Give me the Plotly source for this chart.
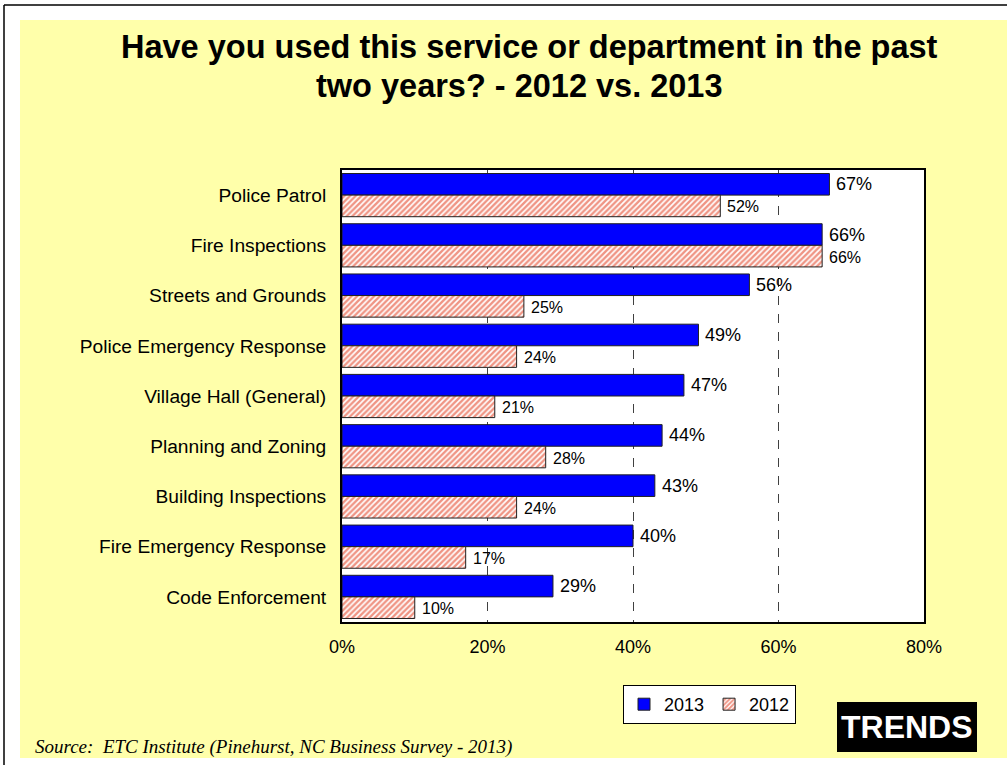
import plotly.graph_objects as go

# Survey results: share of respondents who used each service
categories = [
    "Police Patrol",
    "Fire Inspections",
    "Streets and Grounds",
    "Police Emergency Response",
    "Village Hall (General)",
    "Planning and Zoning",
    "Building Inspections",
    "Fire Emergency Response",
    "Code Enforcement",
]
pct_2013 = [67, 66, 56, 49, 47, 44, 43, 40, 29]
pct_2012 = [52, 66, 25, 24, 21, 28, 24, 17, 10]
x_ticks = [0, 20, 40, 60, 80]
x_tick_text = ["0%", "20%", "40%", "60%", "80%"]

title_lines = [
    "Have you used this service or department in the past",
    "two years? - 2012 vs. 2013",
]
source_text = "Source:  ETC Institute (Pinehurst, NC Business Survey - 2013)"

# Canvas and plot-area geometry (pixels)
W, H = 1007, 765
L, R, T, B = 342, 924, 170, 622
PW, PH = R - L, B - T


def px(x):
    return (x - L) / PW


def py(y):
    return (B - y) / PH


BLUE = "#0000FF"
HATCH = "#E02A0A"
YELLOW = "#FFFFAA"
FONT = "Arial, Liberation Sans, sans-serif"

fig = go.Figure()

fig.add_trace(go.Bar(
    y=categories, x=pct_2013, name="2013", orientation="h",
    marker=dict(color=BLUE, line=dict(color="#202020", width=1)),
    hoverinfo="skip",
))
fig.add_trace(go.Bar(
    y=categories, x=pct_2012, name="2012", orientation="h",
    marker=dict(
        color="white",
        line=dict(color="#202020", width=1),
        pattern=dict(shape="/", fgcolor=HATCH, bgcolor="white",
                     size=4, solidity=0.6, fillmode="overlay"),
    ),
    hoverinfo="skip",
))

shapes = [
    # page frame lines
    dict(type="line", xref="paper", yref="paper",
         x0=px(4), x1=px(W + 5), y0=py(5), y1=py(5),
         line=dict(color="black", width=1.5), layer="below"),
    dict(type="line", xref="paper", yref="paper",
         x0=px(4), x1=px(4), y0=py(5), y1=py(H + 5),
         line=dict(color="black", width=1.5), layer="below"),
    # yellow panel
    dict(type="rect", xref="paper", yref="paper",
         x0=px(20), x1=px(W + 5), y0=py(20), y1=py(758),
         fillcolor=YELLOW, line=dict(width=0), layer="below"),
    # white plot area
    dict(type="rect", xref="x domain", yref="y domain",
         x0=0, x1=1, y0=0, y1=1,
         fillcolor="white", line=dict(width=0), layer="below"),
    # TRENDS badge
    dict(type="rect", xref="paper", yref="paper",
         x0=px(837), x1=px(977), y0=py(702), y1=py(752),
         fillcolor="black", line=dict(width=0)),
]

annotations = [
    dict(text=title_lines[0], xref="paper", yref="paper",
         x=px(529), y=py(47), xanchor="center", yanchor="middle",
         showarrow=False, font=dict(family=FONT, size=32.5, color="black", weight="bold")),
    dict(text=title_lines[1], xref="paper", yref="paper",
         x=px(519), y=py(86), xanchor="center", yanchor="middle",
         showarrow=False, font=dict(family=FONT, size=32.5, color="black", weight="bold")),
    dict(text="TRENDS", xref="paper", yref="paper",
         x=px(907), y=py(727), xanchor="center", yanchor="middle",
         showarrow=False, font=dict(family=FONT, size=32, color="white", weight="bold")),
    dict(text=source_text, xref="paper", yref="paper",
         x=px(33), y=py(747), xanchor="left", yanchor="middle",
         showarrow=False,
         font=dict(family="Times New Roman, Liberation Serif, serif", size=19,
                   color="black", style="italic")),
]

# value labels beside each bar
slot = PH / len(categories)
half_bar = slot * (1 - 0.14) / 4
for cat, v in zip(categories, pct_2013):
    annotations.append(dict(
        text=f"{v}%", x=v, y=cat, xref="x", yref="y",
        xanchor="left", yanchor="middle", xshift=5, yshift=half_bar,
        showarrow=False, font=dict(family=FONT, size=18, color="black")))
for cat, v in zip(categories, pct_2012):
    annotations.append(dict(
        text=f"{v}%", x=v, y=cat, xref="x", yref="y",
        xanchor="left", yanchor="middle", xshift=5, yshift=-half_bar - 1,
        showarrow=False, font=dict(family=FONT, size=16, color="black")))

fig.update_layout(
    width=W, height=H,
    margin=dict(l=L, r=W - R, t=T, b=H - B, pad=0),
    paper_bgcolor="white",
    plot_bgcolor="white",
    barmode="group",
    bargap=0.14,
    bargroupgap=0,
    font=dict(family=FONT, color="black"),
    shapes=shapes,
    annotations=annotations,
    showlegend=True,
    legend=dict(
        orientation="h",
        x=px(623), y=py(685), xanchor="left", yanchor="top",
        bgcolor="white", bordercolor="black", borderwidth=1,
        font=dict(family=FONT, size=18, color="black"),
        itemwidth=30, tracegroupgap=0,
    ),
    xaxis=dict(
        range=[0, 80], tickvals=x_ticks, ticktext=x_tick_text,
        showgrid=True, gridcolor="#404040", griddash="dash", gridwidth=1,
        zeroline=False, showline=True, mirror=True,
        linecolor="black", linewidth=2,
        ticks="", ticklabelstandoff=7,
        tickfont=dict(family=FONT, size=18, color="black"),
        fixedrange=True,
    ),
    yaxis=dict(
        categoryorder="array", categoryarray=categories,
        autorange="reversed",
        showgrid=False, zeroline=False, showline=True, mirror=True,
        linecolor="black", linewidth=2,
        ticks="", ticklabelstandoff=10,
        tickfont=dict(family=FONT, size=19.2, color="black"),
        fixedrange=True,
    ),
)

fig.write_html("out.html")
